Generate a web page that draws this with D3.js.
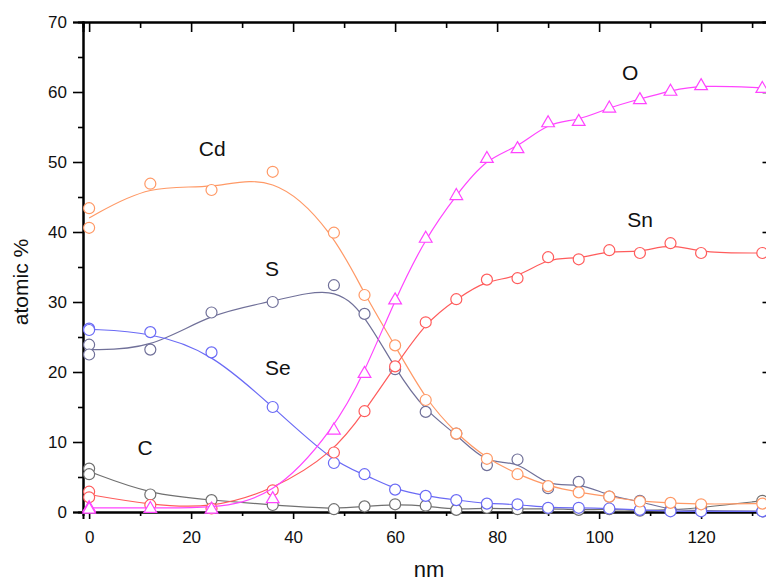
<!DOCTYPE html>
<html>
<head>
<meta charset="utf-8">
<script src="https://cdn.jsdelivr.net/npm/d3@7/dist/d3.min.js"></script>
<style>
  html, body { margin: 0; padding: 0; background: #fff; }
  svg { display: block; font-family: "Liberation Sans", Arial, sans-serif; }
</style>
</head>
<body>
<svg id="chart" width="766" height="583"></svg>
<script>
// Depth profile: sputter depth (nm) vs. atomic concentration (%)
const depth = [0, 0, 12, 24, 36, 48, 54, 60, 66, 72, 78, 84, 90, 96, 102, 108, 114, 120, 132];

const cd = [43.4, 40.6, 46.9, 46.0, 48.6, 39.9, 31.0, 23.8, 16.0, 11.2, 7.6, 5.4, 3.7, 2.8, 2.2, 1.5, 1.3, 1.1, 1.2];
const s  = [23.9, 22.5, 23.2, 28.5, 30.0, 32.4, 28.3, 20.4, 14.3, 11.2, 6.7, 7.5, 3.4, 4.3, 2.2, 1.6, 0.2, 0.2, 0.1];
const se = [26.2, 26.0, 25.7, 22.8, 15.0, 7.0, 5.4, 3.2, 2.3, 1.7, 1.2, 1.1, 0.6, 0.6, 0.5, 0.3, 0.1, 0.1, 0.1];
const o  = [0.7, 0.5, 0.6, 0.5, 2.0, 11.8, 19.9, 30.4, 39.2, 45.3, 50.6, 52.0, 55.7, 55.9, 57.8, 59.0, 60.2, 61.0, 60.6];
const sn = [2.9, 2.1, 1.0, 0.5, 3.1, 8.5, 14.4, 20.8, 27.1, 30.4, 33.2, 33.4, 36.4, 36.1, 37.4, 37.0, 38.4, 37.0, 37.0];
const c  = [6.2, 5.4, 2.5, 1.7, 1.0, 0.4, 0.8, 1.1, 0.9, 0.3, 0.6, 0.4, 0.5, 0.3, 0.4, 0.2, 0.3, 0.6, 1.6];

const seriesNames = ["C", "S", "Se", "Cd", "Sn", "O"];
const seriesValues = [c, s, se, cd, sn, o];
const seriesColors = ["#707070", "#707099", "#6a6af5", "#ff9966", "#ff5c5c", "#ff44ff"];
const seriesMarkers = ["circle", "circle", "circle", "circle", "circle", "triangle"];

// element label anchors in data units (x nm, y %)
const labelPos = {
  "Cd": [21.5, 50.8], "S": [34.5, 33.7], "Se": [34.5, 19.6],
  "C": [9.5, 8.1], "O": [104.5, 61.7], "Sn": [105.5, 40.7]
};

const xTicks = [0, 20, 40, 60, 80, 100, 120];
const xMinor = [10, 30, 50, 70, 90, 110, 130];
const yTicks = [0, 10, 20, 30, 40, 50, 60, 70];
const yMinor = [5, 15, 25, 35, 45, 55, 65];

const svg = d3.select("#chart");
const plotLeft = 83, plotRight = 772.5, plotTop = 22, plotBottom = 512;

const x = d3.scaleLinear().domain([-1.2, 134]).range([plotLeft, plotRight]);
const y = d3.scaleLinear().domain([0, 70]).range([plotBottom, plotTop]);

function styleAxis(g) {
  g.select(".domain").attr("stroke", "#000").attr("stroke-width", 2);
  g.selectAll(".tick line").attr("stroke", "#000").attr("stroke-width", 1.6);
  g.selectAll(".tick text").attr("fill", "#111").style("font-size", "17px")
    .style("font-family", '"Liberation Sans", Arial, sans-serif');
}

// left axis
svg.append("g").attr("transform", `translate(${plotLeft},0)`)
  .call(d3.axisLeft(y).tickValues(yMinor).tickSize(5).tickFormat(""))
  .call(styleAxis);
svg.append("g").attr("transform", `translate(${plotLeft},0)`)
  .call(d3.axisLeft(y).tickValues(yTicks).tickSize(10).tickPadding(6).tickFormat(d3.format("d")))
  .call(styleAxis);

// bottom axis
svg.append("g").attr("transform", `translate(0,${plotBottom})`)
  .call(d3.axisBottom(x).tickValues(xMinor).tickSize(4).tickFormat(""))
  .call(styleAxis);
svg.append("g").attr("transform", `translate(0,${plotBottom})`)
  .call(d3.axisBottom(x).tickValues(xTicks).tickSize(7).tickPadding(12).tickFormat(d3.format("d")))
  .call(styleAxis);

// top axis (ticks inward)
svg.append("g").attr("transform", `translate(0,${plotTop})`)
  .call(d3.axisTop(x).tickValues(xMinor).tickSize(-6).tickFormat(""))
  .call(styleAxis);
svg.append("g").attr("transform", `translate(0,${plotTop})`)
  .call(d3.axisTop(x).tickValues(xTicks).tickSize(-10).tickFormat(""))
  .call(styleAxis);

// right axis (ticks inward)
svg.append("g").attr("transform", `translate(${plotRight},0)`)
  .call(d3.axisRight(y).tickValues(yMinor).tickSize(-5).tickFormat(""))
  .call(styleAxis);
svg.append("g").attr("transform", `translate(${plotRight},0)`)
  .call(d3.axisRight(y).tickValues(yTicks).tickSize(-10).tickFormat(""))
  .call(styleAxis);

// smoothed profile curves (repeated depths averaged)
const line = d3.line().x(d => x(d[0])).y(d => y(d[1])).curve(d3.curveBasis);
const tri = d3.symbol().type(d3.symbolTriangle).size(70);

seriesValues.forEach((vals, i) => {
  const grouped = d3.rollups(depth.map((d, j) => [d, vals[j]]), v => d3.mean(v, p => p[1]), p => p[0])
    .sort((a, b) => a[0] - b[0]);
  const g = svg.append("g");
  g.append("path").datum(grouped).attr("d", line)
    .attr("fill", "none").attr("stroke", seriesColors[i]).attr("stroke-width", 1.2);
  const pts = depth.map((d, j) => [d, vals[j]]);
  if (seriesMarkers[i] === "circle") {
    g.selectAll("circle").data(pts).join("circle")
      .attr("cx", d => x(d[0])).attr("cy", d => y(d[1])).attr("r", 5.5)
      .attr("fill", "#fff").attr("stroke", seriesColors[i]).attr("stroke-width", 1.2);
  } else {
    g.selectAll("path.m").data(pts).join("path").attr("class", "m")
      .attr("d", tri)
      .attr("transform", d => `translate(${x(d[0])},${y(d[1]) + 1})`)
      .attr("fill", "#fff").attr("stroke", seriesColors[i]).attr("stroke-width", 1.2);
  }
});

// element labels
seriesNames.forEach(n => {
  svg.append("text").attr("x", x(labelPos[n][0])).attr("y", y(labelPos[n][1]))
    .attr("fill", "#111").style("font-size", "21px").text(n);
});

// axis titles
svg.append("text").attr("x", 429).attr("y", 577).attr("text-anchor", "middle")
  .attr("fill", "#111").style("font-size", "22px").text("nm");
svg.append("text").attr("transform", "translate(28,282) rotate(-90)").attr("text-anchor", "middle")
  .attr("fill", "#111").style("font-size", "21px").text("atomic %");
</script>
</body>
</html>
